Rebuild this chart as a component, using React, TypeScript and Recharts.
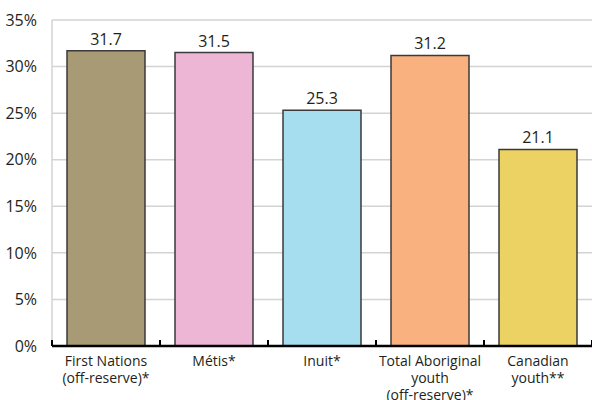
import { BarChart, Bar, XAxis, YAxis, CartesianGrid, Cell, LabelList } from 'recharts';

const categories = [
  'First Nations\n(off-reserve)*',
  'Métis*',
  'Inuit*',
  'Total Aboriginal\nyouth\n(off-reserve)*',
  'Canadian\nyouth**',
];
const values = [31.7, 31.5, 25.3, 31.2, 21.1];
const colors = ['#A89A75', '#ECB6D4', '#A6DDEF', '#F9B17F', '#ECD262'];
const yTicks = [0, 5, 10, 15, 20, 25, 30, 35];

const data = categories.map((name, i) => ({ name, value: values[i] }));

const FONT = '"Open Sans", sans-serif';
const TEXT = '#231f20';

function CategoryTick(props: any) {
  const { x, y, payload, index } = props;
  const half = payload?.offset ?? 54;
  const lines = String(payload.value).split('\n');
  const axisY = y - 8;
  return (
    <g>
      <line x1={x - half} x2={x - half} y1={axisY} y2={axisY - 6} stroke="#000" strokeWidth={2} />
      {index === categories.length - 1 && (
        <line x1={x + half} x2={x + half} y1={axisY} y2={axisY - 6} stroke="#000" strokeWidth={2} />
      )}
      <text x={x} y={y} textAnchor="middle" fontFamily={FONT} fontSize={14} fill={TEXT}>
        {lines.map((l, i) => (
          <tspan key={i} x={x} dy={i === 0 ? 12 : 17}>
            {l}
          </tspan>
        ))}
      </text>
    </g>
  );
}

export default function App() {
  return (
    <div style={{ position: 'absolute', left: 0, top: 0, background: '#fff' }}>
      <BarChart
        width={592}
        height={400}
        data={data}
        margin={{ top: 20, right: 0, left: 0, bottom: 0 }}
        barSize={78}
      >
        <CartesianGrid vertical={false} stroke="#d3d3d3" strokeWidth={1.5} />
        <YAxis
          width={52}
          domain={[0, 35]}
          ticks={yTicks}
          interval={0}
          tickFormatter={(v) => `${v}%`}
          tick={{ fontFamily: FONT, fontSize: 16, fill: TEXT }}
          tickLine={false}
          axisLine={{ stroke: '#d3d3d3', strokeWidth: 1.5 }}
          tickMargin={9}
        />
        <XAxis
          dataKey="name"
          height={54}
          interval={0}
          tick={<CategoryTick />}
          tickLine={false}
          axisLine={{ stroke: '#000', strokeWidth: 2.5 }}
        />
        <Bar dataKey="value" stroke="#3a3a3a" strokeWidth={1.5} isAnimationActive={false}>
          {data.map((d, i) => (
            <Cell key={d.name} fill={colors[i]} />
          ))}
          <LabelList
            dataKey="value"
            position="top"
            offset={6}
            style={{ fontFamily: FONT, fontSize: 16, fill: TEXT }}
          />
        </Bar>
      </BarChart>
    </div>
  );
}
